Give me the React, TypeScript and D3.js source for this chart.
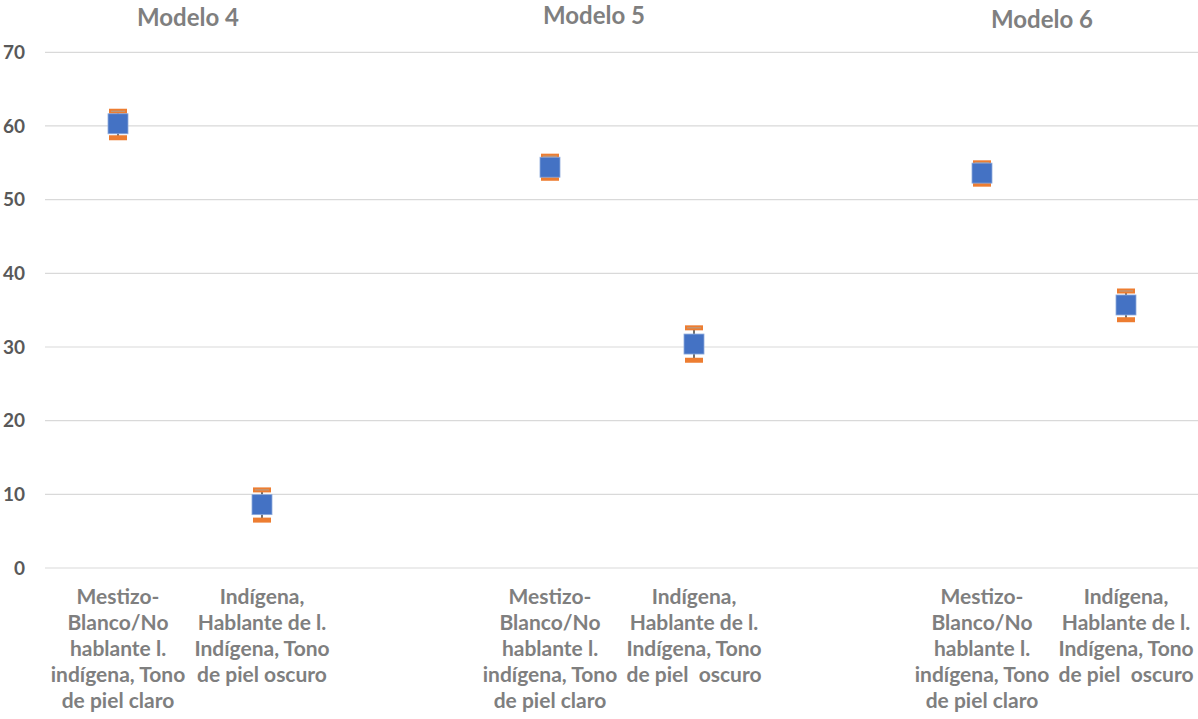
import React from "react";
import * as d3 from "d3";

// Point estimates with their confidence bounds, two groups per model
const models = ["Modelo 4", "Modelo 5", "Modelo 6"];
const groupKeys = ["mestizo", "indigena"];
const estimates = [
  [60.3, 8.6],
  [54.4, 30.4],
  [53.6, 35.7],
];
const upperBounds = [
  [62.0, 10.6],
  [55.9, 32.6],
  [55.0, 37.6],
];
const lowerBounds = [
  [58.4, 6.5],
  [52.9, 28.2],
  [52.1, 33.7],
];
const yTicks = [0, 10, 20, 30, 40, 50, 60, 70];

// Category labels (wrapped) per model
const mestizoLabel = ["Mestizo-", "Blanco/No", "hablante l.", "indígena, Tono", "de piel claro"];
const indigenaLabels = [
  ["Indígena,", "Hablante de l.", "Indígena, Tono", "de piel oscuro"],
  ["Indígena,", "Hablante de l.", "Indígena, Tono", "de piel  oscuro"],
  ["Indígena,", "Hablante de l.", "Indígena, Tono", "de piel  oscuro"],
];
// title anchor offsets relative to the pair centre, and baselines
const titleShift = [-2, -28, -12];
const titleBaseline = [26, 24, 28];

const W = 1198;
const H = 719;
const FONT = "Lato, 'Open Sans', sans-serif";

export default function App() {
  // 8 slots: two categories per model with an empty slot between models
  const slots: string[] = [];
  models.forEach((m, i) => {
    groupKeys.forEach((g) => slots.push(`${m}|${g}`));
    if (i < models.length - 1) slots.push(`gap${i}`);
  });

  const x = d3.scaleBand<string>().domain(slots).range([46, W]).padding(0);
  const y = d3.scaleLinear().domain([0, 70]).range([568, 52.3]);
  const cx = (m: string, g: string) => (x(`${m}|${g}`) as number) + x.bandwidth() / 2;

  const boxSize = 20;
  const capW = 18;
  const capH = 5;

  return (
    <svg
      width={W}
      height={H}
      style={{ position: "absolute", left: 0, top: 0, background: "#fff" }}
      fontFamily={FONT}
    >
      {/* horizontal gridlines */}
      {yTicks.map((t) => (
        <line key={t} x1={45} x2={W} y1={y(t)} y2={y(t)} stroke="#d9d9d9" strokeWidth={1.2} />
      ))}
      {/* y tick labels */}
      {yTicks.map((t) => (
        <text
          key={`t${t}`}
          x={25}
          y={y(t)}
          dy="0.36em"
          textAnchor="end"
          fontSize={19}
          fontWeight={700}
          fill="#595959"
        >
          {t}
        </text>
      ))}

      {models.map((m, mi) => {
        const c0 = cx(m, groupKeys[0]);
        const c1 = cx(m, groupKeys[1]);
        return (
          <g key={m}>
            <text
              x={(c0 + c1) / 2 + titleShift[mi]}
              y={titleBaseline[mi]}
              textAnchor="middle"
              fontSize={24}
              fontWeight={700}
              fill="#7f7f7f"
            >
              {m}
            </text>
            {groupKeys.map((g, gi) => {
              const c = cx(m, g);
              const lines = gi === 0 ? mestizoLabel : indigenaLabels[mi];
              const est = estimates[mi][gi];
              const hi = upperBounds[mi][gi];
              const lo = lowerBounds[mi][gi];
              return (
                <g key={g}>
                  {/* error bar */}
                  <line x1={c} x2={c} y1={y(hi)} y2={y(lo)} stroke="#404040" strokeWidth={1.5} />
                  {/* upper and lower bound markers */}
                  <rect x={c - capW / 2} y={y(hi) - capH / 2} width={capW} height={capH} fill="#ED7D31" />
                  <line x1={c - capW / 2 + 2} x2={c + capW / 2 - 2} y1={y(hi)} y2={y(hi)} stroke="#b0a090" strokeWidth={1} />
                  <rect x={c - capW / 2} y={y(lo) - capH / 2} width={capW} height={capH} fill="#ED7D31" />
                  {/* estimate */}
                  <rect
                    x={c - boxSize / 2}
                    y={y(est) - boxSize / 2}
                    width={boxSize}
                    height={boxSize}
                    fill="#4472C4"
                    stroke="#8eaadc"
                    strokeWidth={0.8}
                  />
                  {/* category label */}
                  <text
                    textAnchor="middle"
                    fontSize={21}
                    fontWeight={700}
                    fill="#7f7f7f"
                    style={{ whiteSpace: "pre" }}
                  >
                    {lines.map((ln, li) => (
                      <tspan key={li} x={c} y={604 + li * 26}>
                        {ln}
                      </tspan>
                    ))}
                  </text>
                </g>
              );
            })}
          </g>
        );
      })}
    </svg>
  );
}
